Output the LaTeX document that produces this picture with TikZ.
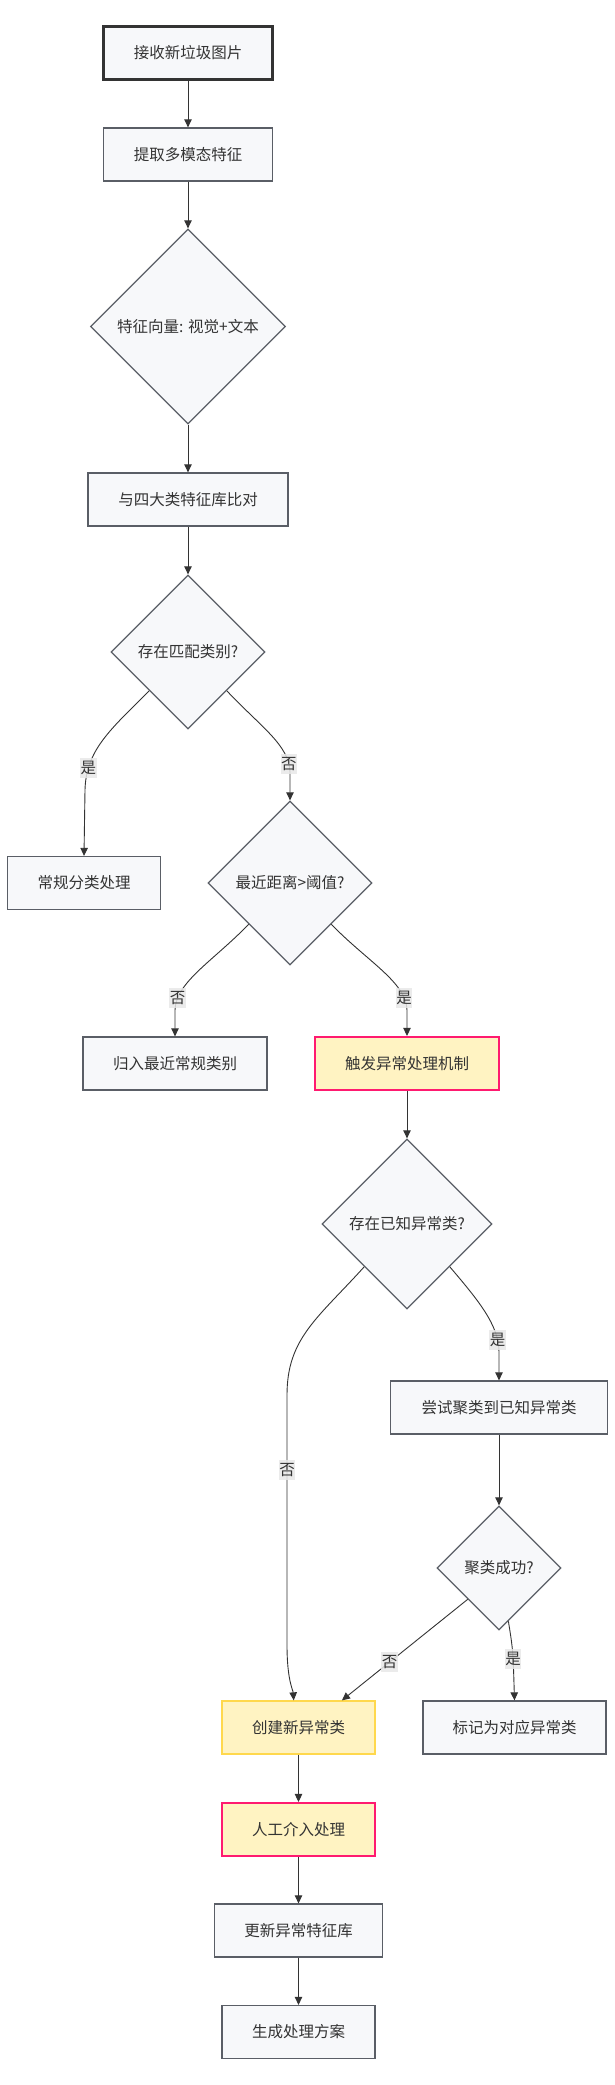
\documentclass[tikz,border=0pt]{standalone}
\usepackage{fontspec}
\setmainfont{Noto Sans CJK SC}
\usepackage{xcolor}
\usepackage{tikz}
\usetikzlibrary{shapes,arrows.meta,calc}
\definecolor{nodeFill}{HTML}{F7F8FA}
\definecolor{nodeLine}{HTML}{5A5E66}
\definecolor{startLine}{HTML}{333333}
\definecolor{alertFill}{HTML}{FFF3C2}
\definecolor{alertLine}{HTML}{FF1A70}
\definecolor{newLine}{HTML}{FFD84D}
\definecolor{edgeLine}{HTML}{333333}
\definecolor{labelFill}{HTML}{E8E8E8}
\definecolor{textCol}{HTML}{333333}
\tikzstyle{tsText} = [
    text=textCol,
    font=\fontsize{15.5}{18}\selectfont
]
\tikzstyle{tsBox} = [
    rectangle,
    tsText,
    draw=nodeLine,
    fill=nodeFill,
    line width=1.3pt,
    minimum height=53pt,
    inner sep=0pt,
    text centered
]
\tikzstyle{tsStartBox} = [
    tsBox,
    draw=startLine,
    line width=2.2pt
]
\tikzstyle{tsAlertBox} = [
    tsBox,
    fill=alertFill,
    draw=alertLine,
    line width=2.2pt
]
\tikzstyle{tsNewBox} = [
    tsBox,
    fill=alertFill,
    draw=newLine
]
\tikzstyle{tsDecision} = [
    diamond,
    aspect=1,
    tsText,
    draw=nodeLine,
    fill=nodeFill,
    line width=1.3pt,
    inner sep=0pt
]
\tikzstyle{tsEdge} = [
    draw=edgeLine,
    line width=0.9pt,
    -{Triangle[length=8pt,width=7.5pt]}
]
\tikzstyle{tsLabel} = [
    tsText,
    fill=labelFill,
    fill opacity=0.85,
    text opacity=1,
    inner xsep=0.5pt,
    inner ysep=3pt
]

\begin{document}
\begin{tikzpicture}[x=1pt, y=-1pt]
    \useasboundingbox (0,0) rectangle (614,2085);

    % Intake and features
    \node[tsStartBox, minimum width=169pt] (recv) at (188,53) {接收新垃圾图片};
    \node[tsBox, minimum width=169pt] (extract) at (188,154.5) {提取多模态特征};
    \node[tsDecision, minimum width=195pt, minimum height=195pt] (feat) at (188,326.5) {特征向量: 视觉+文本};
    \node[tsBox, minimum width=200pt] (compare) at (188,499.5) {与四大类特征库比对};

    % Regular classes
    \node[tsDecision, minimum width=154pt, minimum height=154pt] (match) at (188,652) {存在匹配类别?};
    \node[tsBox, minimum width=153pt] (normal) at (84,883) {常规分类处理};
    \node[tsDecision, minimum width=164pt, minimum height=164pt] (dist) at (290,883) {最近距离>阈值?};
    \node[tsBox, minimum width=184pt] (regular) at (175,1063.5) {归入最近常规类别};
    \node[tsAlertBox, minimum width=184pt] (alarm) at (407,1063.5) {触发异常处理机制};

    % Anomaly handling
    \node[tsDecision, minimum width=170pt, minimum height=170pt] (known) at (407,1224) {存在已知异常类?};
    \node[tsBox, minimum width=217pt] (cluster) at (499,1407.5) {尝试聚类到已知异常类};
    \node[tsDecision, minimum width=124pt, minimum height=124pt] (success) at (499,1568) {聚类成功?};
    \node[tsNewBox, minimum width=153pt] (newcls) at (298.5,1727.5) {创建新异常类};
    \node[tsBox, minimum width=183pt] (ident) at (514.5,1727.5) {标记为对应异常类};
    \node[tsAlertBox, minimum width=153pt] (manual) at (298.5,1829.5) {人工介入处理};
    \node[tsBox, minimum width=168pt] (update) at (298.5,1930.5) {更新异常特征库};
    \node[tsBox, minimum width=153pt] (plan) at (298.5,2032) {生成处理方案};

    % Straight arrows
    \draw[tsEdge] (recv) -- (extract);
    \draw[tsEdge] (extract) -- (feat);
    \draw[tsEdge] (feat) -- (compare);
    \draw[tsEdge] (compare) -- (match);
    \draw[tsEdge] (alarm) -- (known);
    \draw[tsEdge] (cluster) -- (success);
    \draw[tsEdge] (newcls) -- (manual);
    \draw[tsEdge] (manual) -- (update);
    \draw[tsEdge] (update) -- (plan);

    % Branches
    \draw[tsEdge] (match.south west) .. controls (110,730) and (86,750) .. (85,790)
        node[tsLabel, pos=0.8] {是} -- (normal.north);
    \draw[tsEdge] (match.south east) .. controls (262,728) and (289,745) .. (290,772)
        node[tsLabel, pos=0.9] {否} -- (dist.north);
    \draw[tsEdge] (dist.south west) .. controls (212,962) and (176,982) .. (175,1010)
        node[tsLabel, pos=0.85] {否} -- (regular.north);
    \draw[tsEdge] (dist.south east) .. controls (368,962) and (406,982) .. (407,1010)
        node[tsLabel, pos=0.85] {是} -- (alarm.north);
    \draw[tsEdge] (known.south east) .. controls (478,1300) and (499,1325) .. (499,1352)
        node[tsLabel, pos=0.85] {是} -- (cluster.north);
    \draw[tsEdge] (known.south west) .. controls (318,1318) and (287,1338) .. (287,1395)
        -- node[tsLabel, pos=0.3] {否} (287,1645)
        .. controls (287,1680) and (293,1690) .. (newcls.100);
    \draw[tsEdge] (success.south west) -- node[tsLabel, pos=0.62] {否} (newcls.32);
    \draw[tsEdge] (success.-80) .. controls (513,1650) .. node[tsLabel, pos=0.6] {是} (ident.north);

\end{tikzpicture}
\end{document}
